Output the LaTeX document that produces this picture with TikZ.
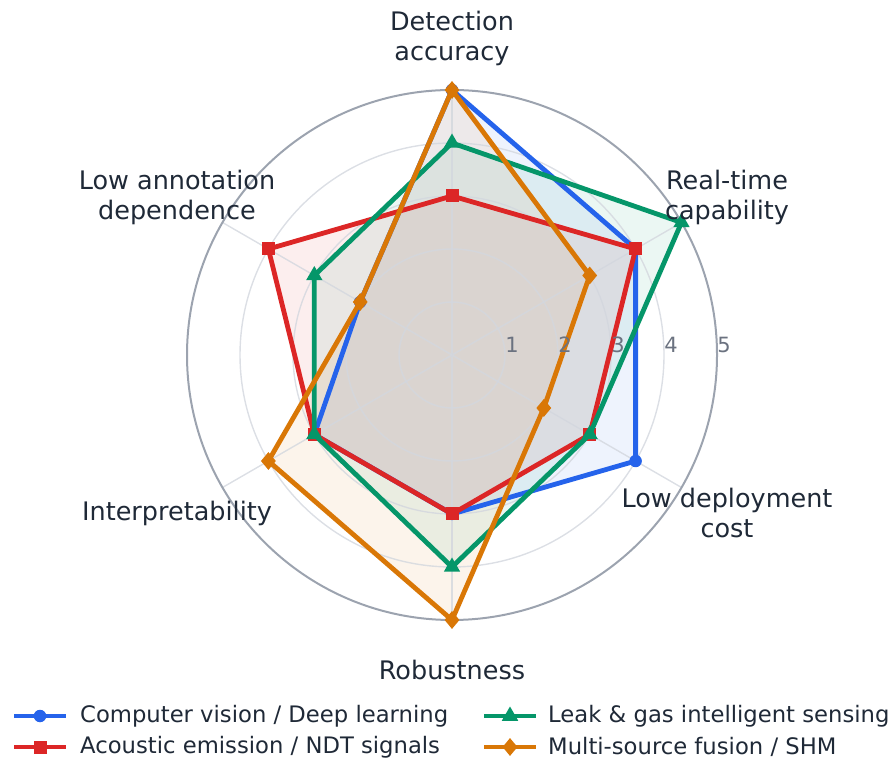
\documentclass[tikz,border=0pt]{standalone}
\usepackage{fontspec}
\setmainfont{DejaVu Sans}
\usetikzlibrary{shapes.geometric}

\definecolor{cvblue}{HTML}{2563EB}
\definecolor{aered}{HTML}{DC2626}
\definecolor{lkgreen}{HTML}{059669}
\definecolor{fsorange}{HTML}{D97706}
\definecolor{ringgray}{HTML}{D3D7DE}
\definecolor{outergray}{HTML}{9CA3AF}
\definecolor{labeltext}{HTML}{1F2937}
\definecolor{ticktext}{HTML}{6B7280}

\tikzset{
  ring/.style={draw=ringgray, line width=1.4, draw opacity=0.8},
  outerring/.style={draw=outergray, line width=2},
  spoke/.style={draw=ringgray, line width=1.4, draw opacity=0.8},
  axislabel/.style={text=labeltext, align=center, font=\fontsize{25.5}{30}\selectfont, inner sep=0},
  ticklabel/.style={text=ticktext, font=\fontsize{21}{24}\selectfont, inner sep=0},
  legendtext/.style={text=labeltext, anchor=west, font=\fontsize{22.7}{26}\selectfont, inner sep=0},
  seriesline/.style={line width=4.8, line join=round},
  mkcirc/.style={circle, inner sep=0, minimum size=12.5},
  mksq/.style={rectangle, inner sep=0, minimum size=13},
  mktri/.style={regular polygon, regular polygon sides=3, inner sep=0, minimum size=19},
  mkdia/.style={diamond, inner sep=0, minimum width=15, minimum height=18},
}

% named vertices of one series: name prefix, six radii
\newcommand\radarpoints[2]{%
  \foreach \r [count=\i] in {#2} {\coordinate (#1\i) at ({90-60*(\i-1)}:\r);}
}
% translucent area of one series
\newcommand\radarfill[2]{%
  \fill[#1, opacity=0.08] (#21) -- (#22) -- (#23) -- (#24) -- (#25) -- (#26) -- cycle;
}
% outline and markers of one series: colour, marker style, name prefix
\newcommand\radarline[3]{%
  \draw[#1, seriesline] (#31) -- (#32) -- (#33) -- (#34) -- (#35) -- (#36) -- cycle;
  \foreach \i in {1,...,6} {\node[#2, fill=#1] (#3m\i) at (#3\i) {};}
}

\begin{document}
\begin{tikzpicture}[x=1pt, y=1pt]
\useasboundingbox (0,0) rectangle (890,762);

\begin{scope}[shift={(452,407)}]
  \coordinate (O) at (0,0);

  % vertices (radius = value x 53)
  \radarpoints{cv}{265,212,212,159,159,106}
  \radarpoints{ae}{159,212,159,159,159,212}
  \radarpoints{lk}{212,265,159,212,159,159}
  \radarpoints{fs}{265,159,106,265,212,106}

  % areas
  \radarfill{cvblue}{cv}
  \radarfill{aered}{ae}
  \radarfill{lkgreen}{lk}
  \radarfill{fsorange}{fs}

  % grid rings and spokes
  \foreach \k in {1,...,4} {\draw[ring] (O) circle ({53*\k});}
  \foreach \a in {90,30,-30,-90,-150,150} {\draw[spoke] (O) -- (\a:265);}
  \draw[outerring] (O) circle (265);

  % outlines with markers
  \radarline{cvblue}{mkcirc}{cv}
  \radarline{aered}{mksq}{ae}
  \radarline{lkgreen}{mktri}{lk}
  \radarline{fsorange}{mkdia}{fs}

  % radial tick labels
  \foreach \k in {1,...,5} {\node[ticklabel] (t\k) at ({53*\k+7},10) {\k};}
\end{scope}

% axis labels
\node[axislabel] (la1) at (452,724) {Detection\\accuracy};
\node[axislabel] (la2) at (727,565) {Real-time\\capability};
\node[axislabel] (la3) at (727,249) {Low deployment\\cost};
\node[axislabel] (la4) at (452,92) {Robustness};
\node[axislabel] (la5) at (177,249) {Interpretability};
\node[axislabel] (la6) at (177,565) {Low annotation\\dependence};

% legend
\coordinate (g1a) at (14,46);  \coordinate (g1b) at (66,46);
\coordinate (g2a) at (14,15);  \coordinate (g2b) at (66,15);
\coordinate (g3a) at (484,46); \coordinate (g3b) at (536,46);
\coordinate (g4a) at (484,15); \coordinate (g4b) at (536,15);
\draw[cvblue, seriesline] (g1a) -- (g1b);
\node[mkcirc, fill=cvblue] (gm1) at (40,46) {};
\node[legendtext] (gt1) at (80,46) {Computer vision / Deep learning};
\draw[aered, seriesline] (g2a) -- (g2b);
\node[mksq, fill=aered] (gm2) at (40,15) {};
\node[legendtext] (gt2) at (80,15) {Acoustic emission / NDT signals};
\draw[lkgreen, seriesline] (g3a) -- (g3b);
\node[mktri, fill=lkgreen] (gm3) at (510,46) {};
\node[legendtext] (gt3) at (548,46) {Leak \& gas intelligent sensing};
\draw[fsorange, seriesline] (g4a) -- (g4b);
\node[mkdia, fill=fsorange] (gm4) at (510,15) {};
\node[legendtext] (gt4) at (548,15) {Multi-source fusion / SHM};
\end{tikzpicture}
\end{document}
